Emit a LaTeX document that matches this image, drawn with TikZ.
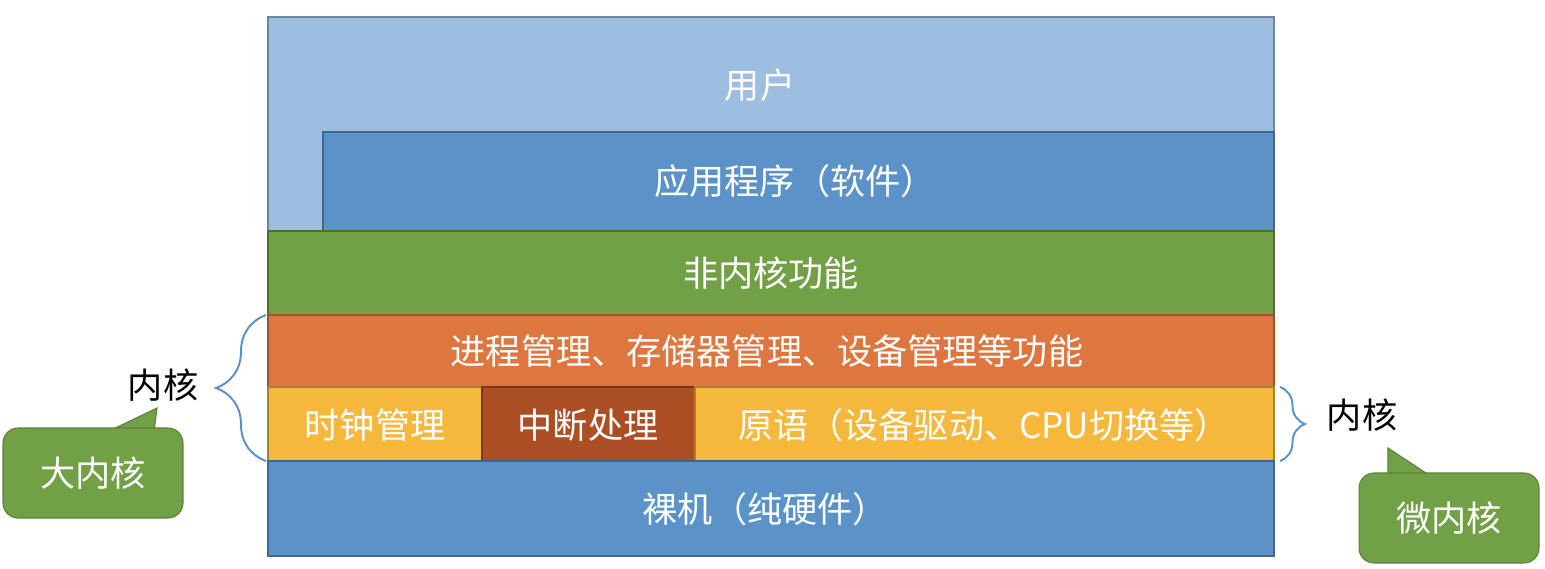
\documentclass[tikz,border=0pt]{standalone}
\usepackage{fontspec}
\usepackage{tikz}
\usetikzlibrary{decorations.pathreplacing}
\newfontfamily\cjk{Noto Sans CJK SC}
\definecolor{userblue}{HTML}{9DBDE1}
\definecolor{layerblue}{HTML}{5B93C9}
\definecolor{shellgreen}{HTML}{72A046}
\definecolor{kernorange}{HTML}{DE763F}
\definecolor{primyellow}{HTML}{F5B83D}
\definecolor{intbrown}{HTML}{AD4F25}
\definecolor{bracecol}{HTML}{5B8FCB}

\begin{document}
\begin{tikzpicture}[x=0.02cm, y=-0.02cm,
    layer/.style={fill=#1, draw=#1!70!black, line width=0.7pt},
    lbl/.style={text=white, font=\cjk\fontsize{20}{24}\selectfont},
    side/.style={text=black, font=\cjk\fontsize{20}{24}\selectfont},
    bubble/.style={fill=shellgreen, draw=shellgreen!80!black, line width=0.6pt},
    bubblebox/.style={bubble, rounded corners=0.3cm, minimum width=3.6cm,
      minimum height=1.8cm, text=white, font=\cjk\fontsize{20}{24}\selectfont},
    kbrace/.style={draw=bracecol, line width=1.1pt, decorate,
      decoration={brace, amplitude=#1}}]
  \useasboundingbox (0,0) rectangle (1545,568);
  % user layer (L shape) and application layer on top of it
  \draw[layer=userblue] (268,17) rectangle (1274,231);
  \node[lbl] (user) at (760,85) {用户};
  \draw[layer=layerblue] (323,132) rectangle (1274,231);
  \node[lbl] (app) at (795,181) {应用程序（软件）};
  % non-kernel functions
  \draw[layer=shellgreen] (268,231) rectangle (1274,315);
  \node[lbl] (shell) at (771,273) {非内核功能};
  % kernel: management functions
  \draw[layer=kernorange] (268,315) rectangle (1274,387);
  \node[lbl] (mgmt) at (767,351) {进程管理、存储器管理、设备管理等功能};
  % kernel: clock, interrupt, primitives
  \draw[layer=primyellow] (268,387) rectangle (482,461);
  \node[lbl] (clock) at (375,425) {时钟管理};
  \draw[layer=intbrown] (482,387) rectangle (695,461);
  \node[lbl] (intr) at (588,425) {中断处理};
  \draw[layer=primyellow] (695,387) rectangle (1274,461);
  \node[lbl] (prim) at (984,425) {原语（设备驱动、CPU切换等）};
  % bare machine
  \draw[layer=layerblue] (268,461) rectangle (1274,556);
  \node[lbl] (hw) at (765,509) {裸机（纯硬件）};
  % big kernel brace and callout
  \coordinate (bigtop) at (266,315);
  \coordinate (bigbot) at (266,461);
  \draw[kbrace=1cm] (bigbot) -- (bigtop);
  \node[side] (bigk) at (163,385) {内核};
  \coordinate (bigtip) at (157,408);
  \draw[bubble] (107,432) -- (bigtip) -- (154,432);
  \node[bubblebox] (big) at (93,473) {大内核};
  % micro kernel brace and callout
  \coordinate (microtop) at (1280,387);
  \coordinate (microbot) at (1280,461);
  \draw[kbrace=0.5cm] (microtop) -- (microbot);
  \node[side] (microk) at (1362,415) {内核};
  \coordinate (microtip) at (1388,448);
  \draw[bubble] (1388,477) -- (microtip) -- (1432,477);
  \node[bubblebox] (micro) at (1449,518) {微内核};
\end{tikzpicture}
\end{document}
